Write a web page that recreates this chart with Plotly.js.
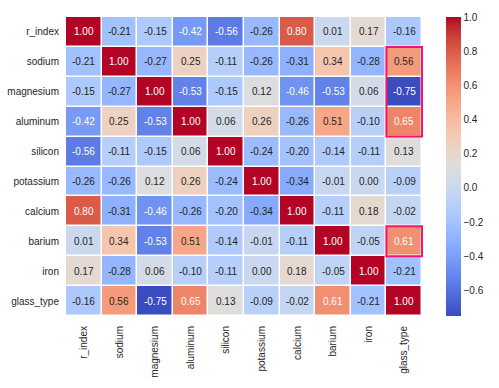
<!DOCTYPE html>
<html>
<head>
<meta charset="utf-8">
<script src="https://cdn.plot.ly/plotly-3.0.1.min.js"></script>
<style>html,body{margin:0;padding:0;background:#fff;}#chart{width:499px;height:388px;}</style>
</head>
<body>
<div id="chart"></div>
<script>
var features = ['r_index','sodium','magnesium','aluminum','silicon','potassium','calcium','barium','iron','glass_type'];
var r_index    = [ 1.00,-0.21,-0.15,-0.42,-0.56,-0.26, 0.80, 0.01, 0.17,-0.16];
var sodium     = [-0.21, 1.00,-0.27, 0.25,-0.11,-0.26,-0.31, 0.34,-0.28, 0.56];
var magnesium  = [-0.15,-0.27, 1.00,-0.53,-0.15, 0.12,-0.46,-0.53, 0.06,-0.75];
var aluminum   = [-0.42, 0.25,-0.53, 1.00, 0.06, 0.26,-0.26, 0.51,-0.10, 0.65];
var silicon    = [-0.56,-0.11,-0.15, 0.06, 1.00,-0.24,-0.20,-0.14,-0.11, 0.13];
var potassium  = [-0.26,-0.26, 0.12, 0.26,-0.24, 1.00,-0.34,-0.01, 0.00,-0.09];
var calcium    = [ 0.80,-0.31,-0.46,-0.26,-0.20,-0.34, 1.00,-0.11, 0.18,-0.02];
var barium     = [ 0.01, 0.34,-0.53, 0.51,-0.14,-0.01,-0.11, 1.00,-0.05, 0.61];
var iron       = [ 0.17,-0.28, 0.06,-0.10,-0.11, 0.00, 0.18,-0.05, 1.00,-0.21];
var glass_type = [-0.16, 0.56,-0.75, 0.65, 0.13,-0.09,-0.02, 0.61,-0.21, 1.00];
var highlightColumn = 'glass_type';
var highlightRowRanges = [['sodium','aluminum'], ['barium','barium']];

var z = [r_index, sodium, magnesium, aluminum, silicon, potassium, calcium, barium, iron, glass_type];

// matplotlib coolwarm
var cw = [[59,76,192],[68,90,204],[77,104,215],[87,117,225],[98,130,234],[108,142,241],[119,154,247],[130,165,251],[141,176,254],[152,185,255],[163,194,255],[174,201,253],[184,208,249],[194,213,244],[204,217,238],[213,219,230],[221,221,221],[229,216,209],[236,211,197],[241,204,185],[245,196,173],[247,187,160],[247,177,148],[247,166,135],[244,154,123],[241,141,111],[236,127,99],[229,112,88],[222,96,77],[213,80,66],[203,62,56],[192,40,47],[180,4,38]];
var colorscale = cw.map(function(c,i){return [i/(cw.length-1), 'rgb('+c.join(',')+')'];});

var zmin = Infinity, zmax = -Infinity;
z.forEach(function(r){r.forEach(function(v){zmin=Math.min(zmin,v);zmax=Math.max(zmax,v);});});

function colorAt(v){
  var t = (v - zmin)/(zmax - zmin); t = Math.max(0, Math.min(1, t));
  var p = t*(cw.length-1), i = Math.floor(p), f = p - i;
  if (i >= cw.length-1) return cw[cw.length-1];
  return [0,1,2].map(function(k){return cw[i][k] + (cw[i+1][k]-cw[i][k])*f;});
}
function lum(c){
  var w=[0.2126,0.7152,0.0722], s=0;
  for (var k=0;k<3;k++){var x=c[k]/255; x = x<=0.03928 ? x/12.92 : Math.pow((x+0.055)/1.055,2.4); s+=w[k]*x;}
  return s;
}

var annotations = [];
for (var i=0;i<features.length;i++){
  for (var j=0;j<features.length;j++){
    var v = z[i][j];
    annotations.push({
      x: features[j], y: features[i], xref:'x', yref:'y',
      text: v.toFixed(2), showarrow:false,
      font:{family:'Liberation Sans, Arial, sans-serif', size:10, color: lum(colorAt(v))>0.408 ? 'rgb(38,38,38)' : '#ffffff'}
    });
  }
}

var shapes = highlightRowRanges.map(function(r){
  var cx = features.indexOf(highlightColumn);
  return {type:'rect', xref:'x', yref:'y',
    x0: cx-0.5, x1: cx+0.5,
    y0: features.indexOf(r[0])-0.5, y1: features.indexOf(r[1])+0.5,
    line:{color:'#f5146e', width:2}, fillcolor:'rgba(0,0,0,0)'};
});

var trace = {
  type:'heatmap', z:z, x:features, y:features,
  colorscale:colorscale, zmin:zmin, zmax:zmax,
  xgap:1.5, ygap:1.5, hoverinfo:'none',
  colorbar:{
    x:1.0644, xanchor:'left', xref:'paper', thickness:15, len:1, lenmode:'fraction', y:0.5, yanchor:'middle',
    outlinewidth:0, ticks:'', tickmode:'linear', tick0:0, dtick:0.2, tickformat:'.1f',
    ticklabelposition:'outside', ypad:0, xpad:0,
    tickfont:{family:'Liberation Sans, Arial, sans-serif', size:10, color:'rgb(38,38,38)'}
  }
};

var layout = {
  width:499, height:388,
  margin:{l:66, r:76, t:17, b:72, pad:0},
  paper_bgcolor:'#ffffff', plot_bgcolor:'#ffffff',
  font:{family:'Liberation Sans, Arial, sans-serif', size:10, color:'rgb(38,38,38)'},
  xaxis:{type:'category', tickangle:-90, showgrid:false, zeroline:false, showline:false, ticks:'', ticklabelstandoff:7,
         tickfont:{size:10, color:'rgb(38,38,38)'}},
  yaxis:{type:'category', autorange:'reversed', showgrid:false, zeroline:false, showline:false, ticks:'', ticklabelstandoff:6,
         tickfont:{size:10, color:'rgb(38,38,38)'}},
  annotations:annotations, shapes:shapes, showlegend:false
};

Plotly.newPlot('chart', [trace], layout, {displayModeBar:false, staticPlot:true});
</script>
</body>
</html>
